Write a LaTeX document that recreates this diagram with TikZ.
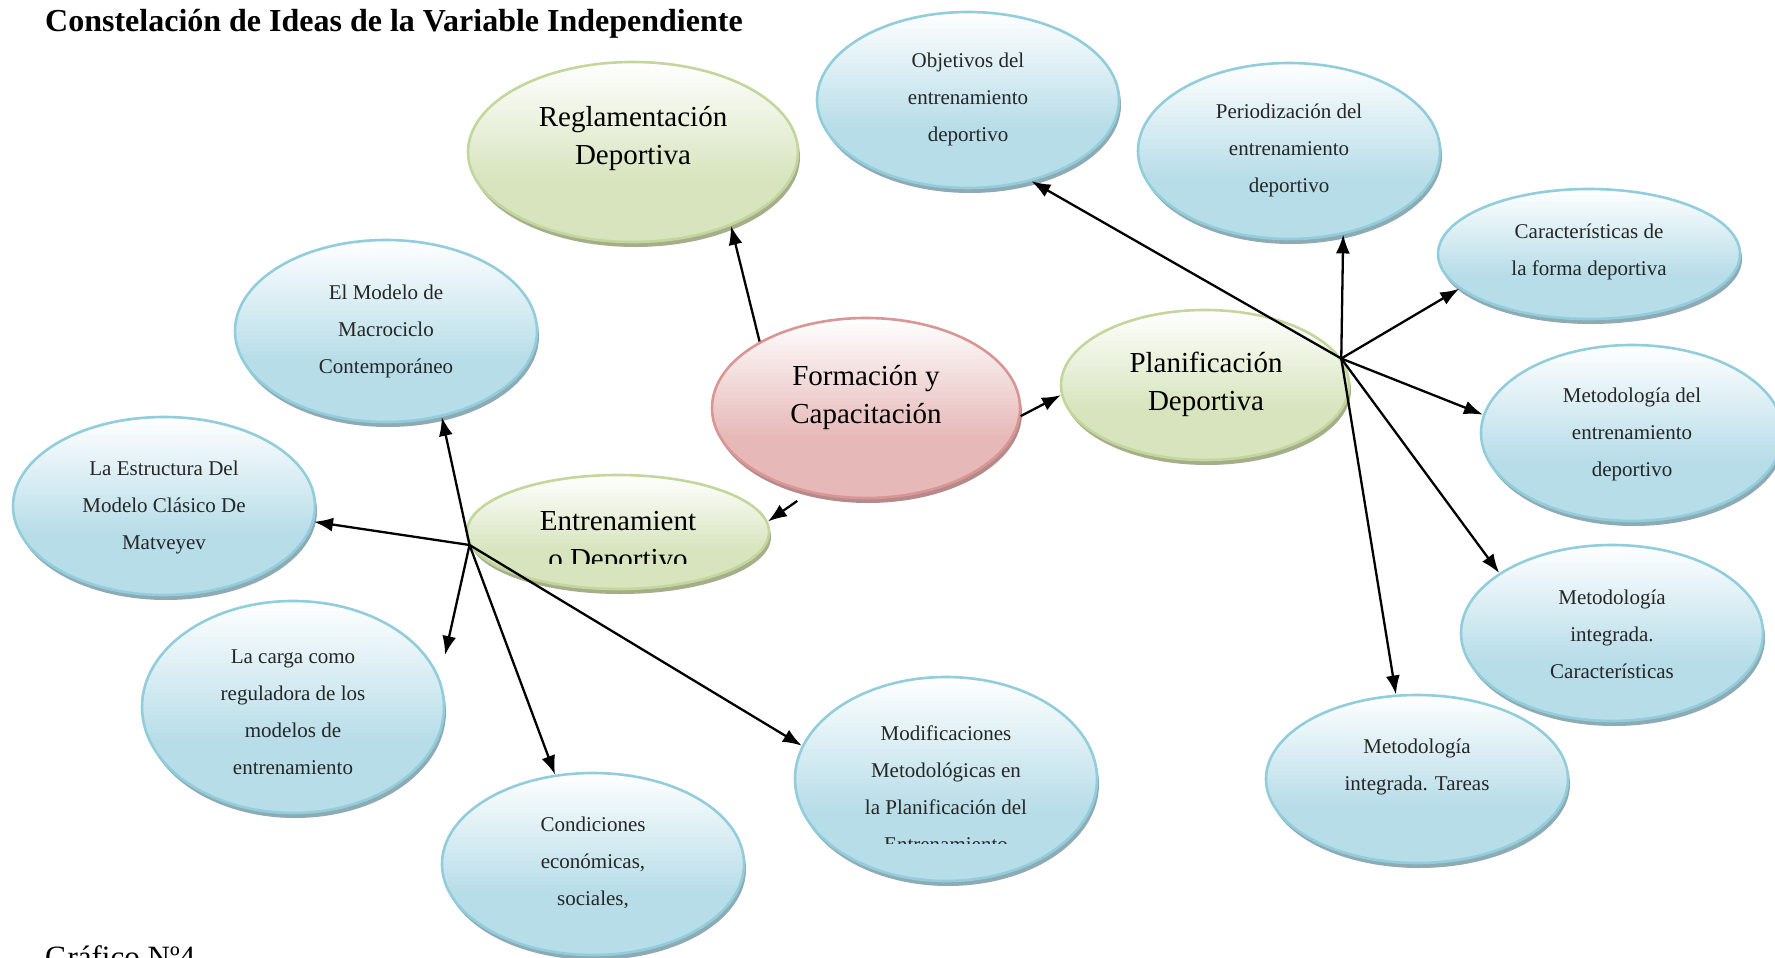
\documentclass[tikz,border=0pt]{standalone}
\usepackage{fontspec}
\setmainfont{Liberation Serif}
\usetikzlibrary{shapes.geometric,shadows,arrows.meta}
\definecolor{bluefill}{HTML}{B7DDE8}
\definecolor{bluedraw}{HTML}{92CDDC}
\definecolor{blueshadow}{HTML}{8EAAB5}
\definecolor{greenfill}{HTML}{D7E4BD}
\definecolor{greendraw}{HTML}{C3D69B}
\definecolor{greenshadow}{HTML}{A5AE8B}
\definecolor{redfill}{HTML}{E6B9B8}
\definecolor{reddraw}{HTML}{D99694}
\definecolor{redshadow}{HTML}{B48B8A}
\pgfdeclareverticalshading{blueshade}{100bp}{color(0bp)=(bluefill); color(25bp)=(bluefill); color(42bp)=(bluefill); color(75bp)=(white); color(100bp)=(white)}
\pgfdeclareverticalshading{greenshade}{100bp}{color(0bp)=(greenfill); color(25bp)=(greenfill); color(42bp)=(greenfill); color(75bp)=(white); color(100bp)=(white)}
\pgfdeclareverticalshading{redshade}{100bp}{color(0bp)=(redfill); color(25bp)=(redfill); color(42bp)=(redfill); color(75bp)=(white); color(100bp)=(white)}
\tikzset{
  ellbase/.style={ellipse, inner sep=0pt, line width=2.6pt},
  blueell/.style={ellbase, draw=bluedraw, shading=blueshade,
    drop shadow={shadow xshift=2pt, shadow yshift=-5pt, fill=blueshadow, opacity=1}},
  greenell/.style={ellbase, draw=greendraw, shading=greenshade,
    drop shadow={shadow xshift=2pt, shadow yshift=-5pt, fill=greenshadow, opacity=1}},
  redell/.style={ellbase, draw=reddraw, shading=redshade,
    drop shadow={shadow xshift=2pt, shadow yshift=-5pt, fill=redshadow, opacity=1}},
  bigtext/.style={align=center, inner sep=0pt, font=\fontsize{29}{38}\selectfont},
  smalltext/.style={align=center, inner sep=0pt, text=black!85, font=\fontsize{21}{37}\selectfont},
  arr/.style={line width=2.3pt, -{Latex[length=19pt,width=14pt]}},
}
\begin{document}
\begin{tikzpicture}[x=1pt, y=-1pt]
\useasboundingbox (0,0) rectangle (1775,958);
\clip (0,0) rectangle (1775,958);
\fill[white] (0,0) rectangle (1775,958);

% title and caption
\node[anchor=base west, inner sep=0pt, font=\fontsize{32}{38}\selectfont\bfseries] (title) at (45,32) {Constelación de Ideas de la Variable Independiente};
\node[anchor=base west, inner sep=0pt, font=\fontsize{31}{37}\selectfont] (caption) at (45,967) {Gráfico Nº4};

% ellipses
\node[greenell, minimum width=330pt, minimum height=180pt] (regl) at (633,152) {};
\node[blueell, minimum width=302pt, minimum height=176pt] (obj) at (968,100) {};
\node[blueell, minimum width=302pt, minimum height=176pt] (per) at (1289,151) {};
\node[blueell, minimum width=302pt, minimum height=130pt] (car) at (1589,254) {};
\node[blueell, minimum width=302pt, minimum height=176pt] (metdel) at (1632,433) {};
\node[blueell, minimum width=302pt, minimum height=176pt] (metint) at (1612,633) {};
\node[blueell, minimum width=302pt, minimum height=168pt] (tar) at (1417,779) {};
\node[greenell, minimum width=288pt, minimum height=150pt] (plan) at (1205,385) {};
\node[redell, minimum width=308pt, minimum height=180pt] (form) at (866,408) {};
\node[greenell, minimum width=302pt, minimum height=114pt] (entr) at (618,532) {};
\node[blueell, minimum width=302pt, minimum height=182pt] (mod) at (386,331) {};
\node[blueell, minimum width=302pt, minimum height=178pt] (est) at (164,506) {};
\node[blueell, minimum width=302pt, minimum height=212pt] (carga) at (293,707) {};
\node[blueell, minimum width=302pt, minimum height=182pt] (cond) at (593,864) {};
\node[blueell, minimum width=302pt, minimum height=204pt] (modif) at (946,779) {};

% texts
\node[bigtext] (reglt) at (633,139) {Reglamentación\\Deportiva};
\node[bigtext] (formt) at (866,397.5) {Formación y\\Capacitación};
\node[bigtext] (plant) at (1206,384.5) {Planificación\\Deportiva};
\begin{scope}
  \clip (450,470) rectangle (790,563);
  \node[bigtext] (entrt) at (618,542.5) {Entrenamient\\o Deportivo};
\end{scope}
\node[smalltext] (objt) at (968,99) {Objetivos del\\entrenamiento\\deportivo};
\node[smalltext] (pert) at (1289,150) {Periodización del\\entrenamiento\\deportivo};
\node[smalltext] (cart) at (1589,251.5) {Características de\\la forma deportiva};
\node[smalltext] (metdelt) at (1632,434) {Metodología del\\entrenamiento\\deportivo};
\node[smalltext] (metintt) at (1612,634) {Metodología\\integrada.\\Características};
\node[smalltext] (tart) at (1417,767) {Metodología\\integrada. Tareas};
\node[smalltext] (modt) at (386,331) {El Modelo de\\Macrociclo\\Contemporáneo};
\node[smalltext] (estt) at (164,507) {La Estructura Del\\Modelo Clásico De\\Matveyev};
\node[smalltext] (cargat) at (293,712) {La carga como\\reguladora de los\\modelos de\\entrenamiento};
\node[smalltext] (condt) at (593,863) {Condiciones\\económicas,\\sociales,};
\begin{scope}
  \clip (790,660) rectangle (1100,843);
  \node[smalltext] (modift) at (946,789) {Modificaciones\\Metodológicas en\\la Planificación del\\Entrenamiento};
\end{scope}

% hubs
\coordinate (eh) at (entr.185);
\coordinate (ph) at (plan.11);

% connectors
\draw[arr] (form.148) -- (regl.-37);
\draw[arr] (form.-3) -- (plan.184);
\draw[arr, shorten <=14pt] (form.236) -- (entr.4);

\draw[arr] (eh) -- (mod.-57);
\draw[arr] (eh) -- (est.-6);
\draw[arr, shorten >=24pt] (eh) -- (carga.11);
\draw[arr] (eh) -- (cond.113);
\draw[arr] (eh) -- (modif.167);

\draw[arr] (ph) -- (obj.-52);
\draw[arr] (ph) -- (per.-57);
\draw[arr] (ph) -- (car.195);
\draw[arr] (ph) -- (metdel.173);
\draw[arr] (ph) -- (metint.152);
\draw[arr] (ph) -- (tar.104);
\end{tikzpicture}
\end{document}
